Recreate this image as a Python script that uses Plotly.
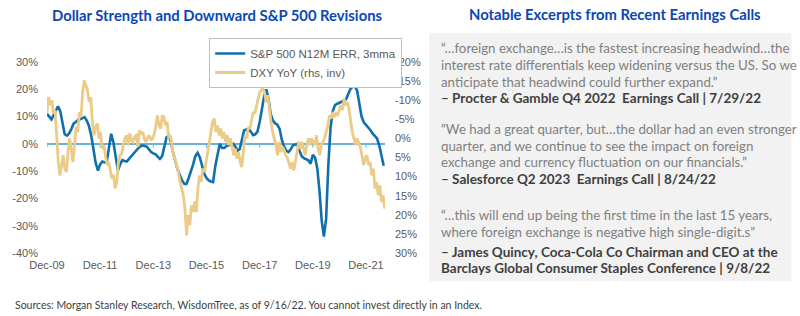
import pandas as pd
import plotly.graph_objects as go

# ---------------- DATA ----------------
# S&P 500 N12M earnings revision ratio, 3mma (%), monthly Dec-2009 .. Aug-2022
sp_start = "2009-12-01"
sp_err = [
    11, 10, 9, 10.5, 12.5, 13.8, 12, 7, 3.5, 3, 3.8, 5.5,
    7.4, 8, 8.8, 9, 9.5, 9.8, 8.5, 6.5, 3, -2, -7, -9.8,
    -7.5, -6.5, -6.8, -6.5, -2, 3.7, 0.5, -5, -9.8, -7.5, -6, -6.3,
    -6.5, -5.5, -4.5, -3.5, -2.5, -1.8, -1, -0.6, -0.8, -1, -2, -3,
    -3.5, -3.8, -4.8, -5.5, -4.5, -1, 2.4, 3, 0.6, -3.5, -7, -9.5,
    -11.5, -13.5, -14.7, -14.7, -12.5, -10.4, -7.5, -4.5, -3.3, -5, -8, -11,
    -12.5, -13.4, -13.8, -14, -8, -3.5, 0, -1.5, -1.5, -0.8, -0.6, -0.3,
    0, -1, -2.5, -2, 1, 4.9, 5.3, 5.5, 4.5, 3.2, 3.5, 4.5,
    8, 13, 17.5, 20, 16.5, 11, 8.5, 7.5, 7, 5.5, 1.5, -1,
    -2.5, -3, -2, -0.6, -0.2, 0, -2.5, -4.5, -5.2, -5.5, -6, -7.3,
    -4, -5, -9, -17, -28, -34, -27.5, -8, 6, 12, 14.2, 14.7,
    15, 15.2, 15.8, 16.3, 18, 20.1, 21, 21.1, 19.5, 15, 10, 7.9,
    7, 6.1, 5, 3.8, 2.8, 2, -0.5, -4, -8,
]

# DXY YoY (%), plotted on inverted right axis, roughly every 3 weeks Dec-2009 .. Aug-2022
dxy_start = "2009-11-30"
dxy_end = "2022-08-15"
dxy_yoy = [
    -6.5, -10.8, -8.7, -10, -6.5, -7.4, -0.8, 6.2, 9.7, 7, 4.4, 7.9, 8.8, 3.6, 0, 2.7,
    6.2, 1.8, -3, -1.7, -6.9, -5.6, -12.1, -15.2, -13.9, -12.6, -9.5, -10.8, -4.3, -0.8, -3, -3.9,
    0, -1.7, 2.7, 1.8, 4.4, 7, 6.2, 8.8, 10.5, 9.5, 13.1, 11.4, 6.2, 4.4, 4.0, 1.8,
    0, -0.8, 1.8, -1.3, 0.5, 0.9, -0.5, -0.8, 2.2, -2.1, -1.0, -1.7, 0.2, 0.9, -0.3, -0.8,
    0.5, 0, -1.0, -3, -6, -3.4, -2.6, -6, -5.6, -3.4, -4.3, 0, -0.8, 2.0, 4.4, 5.5,
    7, 9, 11.4, 13, 14.9, 18.4, 25.4, 20.1, 22.7, 17.5, 19.3, 16.6, 19.3, 13.1, 9.7, 11.4,
    7.9, 8.8, 6.2, 3.6, 0, -1.7, -4.3, -5.2, -1.7, -3.4, -0.8, -2.6, 0, -1.7, 0.9, -0.8,
    1.8, 0, 2.7, 4.4, 2.7, 5.3, 3.6, 6.2, 7.5, 3.6, -0.8, 0, -3, -2.6, -5.2, -6.9,
    -6.5, -8.7, -10.4, -12.1, -12.6, -13, -12.1, -9.5, -11.3, -6.9, -4.3, -1.7, 0, 1.8, 4.4, 0.9,
    3.6, 2.2, 3.0, 4.4, 5.0, 6.2, 7.9, 6.2, 8.4, 6.2, 3.6, 0.9, 2.7, 0.9, 2.5, 4.4,
    1.8, 0, 1.8, 0, 1.0, 1.8, -0.8, 2.7, 4.4, 1.8, 0.9, 0, -1.7, -3.4, -6, -5.2,
    -6.9, -5.6, -6.5, -6, -7.4, -8.7, -7.4, -10.4, -8.7, -9.5, -7.8, -4.3, -1.7, 0, 1.8, 0,
    0.9, 2.2, 4.4, 7, 5.3, 4.4, 7, 6.2, 9.7, 7.9, 13.1, 11.4, 14.9, 12.3, 16.6, 14.9,
    18.4,
]

series_names = ["S&P 500 N12M ERR, 3mma", "DXY YoY (rhs, inv)"]

x_tick_dates = ["2009-12-01", "2011-12-01", "2013-12-01", "2015-12-01",
                "2017-12-01", "2019-12-01", "2021-12-01"]
x_tick_labels = ["Dec-09", "Dec-11", "Dec-13", "Dec-15", "Dec-17", "Dec-19", "Dec-21"]
left_ticks = [30, 20, 10, 0, -10, -20, -30, -40]
right_ticks = [-20, -15, -10, -5, 0, 5, 10, 15, 20, 25, 30]

title_left = "Dollar Strength and Downward S&P 500 Revisions"
title_right = "Notable Excerpts from Recent Earnings Calls"

quotes = [
    (["“…foreign exchange…is the fastest increasing headwind…the",
      "interest rate differentials keep widening versus the US. So we",
      "anticipate that headwind could further expand.”"],
     ["– Procter & Gamble Q4 2022  Earnings Call | 7/29/22"]),
    (["“We had a great quarter, but…the dollar had an even stronger",
      "quarter, and we continue to see the impact on foreign",
      "exchange and currency fluctuation on our financials.”"],
     ["– Salesforce Q2 2023  Earnings Call | 8/24/22"]),
    (["“…this will end up being the first time in the last 15 years,",
      "where foreign exchange is negative high single-digit.s”"],
     ["– James Quincy, Coca-Cola Co Chairman and CEO at the",
      "Barclays Global Consumer Staples Conference | 9/8/22"]),
]
footer = "Sources: Morgan Stanley Research, WisdomTree, as of 9/16/22. You cannot invest directly in an Index."

# ---------------- LAYOUT GEOMETRY ----------------
W, H = 800, 316
PL, PR, PT, PB = 39, 385, 62, 253


def px(x):
    return (x - PL) / (PR - PL)


def py(y):
    return (PB - y) / (PB - PT)


BLUE = "#1170AA"
GOLD = "#EBCB85"
ZERO = "#6AB0DC"
AXIS_TXT = "#595959"
TITLE_BLUE = "#0A47B5"

sp_dates = pd.date_range(sp_start, periods=len(sp_err), freq="MS")
dxy_dates = pd.date_range(dxy_start, dxy_end, periods=len(dxy_yoy))

fig = go.Figure()
fig.add_trace(go.Scatter(x=dxy_dates, y=dxy_yoy, name=series_names[1], yaxis="y2",
                         mode="lines", line=dict(color=GOLD, width=2.8), legendrank=2))
fig.add_trace(go.Scatter(x=sp_dates, y=sp_err, name=series_names[0], yaxis="y",
                         mode="lines", line=dict(color=BLUE, width=2.6), legendrank=1))

tick_font = dict(family="Liberation Sans, Arial, sans-serif", size=11, color=AXIS_TXT)

fig.update_layout(
    width=W, height=H,
    margin=dict(l=PL, r=W - PR, t=PT, b=H - PB, pad=0),
    paper_bgcolor="white", plot_bgcolor="white",
    xaxis=dict(type="date", range=["2009-12-01", "2022-08-19"], tickmode="array",
               tickvals=x_tick_dates, ticktext=x_tick_labels, showgrid=False,
               showline=False, zeroline=False, ticks="", tickfont=tick_font,
               ticklabelstandoff=4),
    yaxis=dict(range=[-40, 30], tickmode="array", tickvals=left_ticks,
               ticktext=[f"{v}%" for v in left_ticks], showgrid=False, showline=False,
               zeroline=True, zerolinecolor=ZERO, zerolinewidth=1.5, ticks="",
               tickfont=tick_font, ticklabelstandoff=8),
    yaxis2=dict(range=[30, -20], overlaying="y", side="right", tickmode="array",
                tickvals=right_ticks, ticktext=[f"{v}%" for v in right_ticks],
                showgrid=False, showline=False, zeroline=False, ticks="",
                tickfont=tick_font, ticklabelstandoff=9),
    legend=dict(x=px(205), y=py(38), xanchor="left", yanchor="top",
                bgcolor="white", bordercolor="#BFBFBF", borderwidth=1,
                font=dict(family="Liberation Sans, Arial, sans-serif", size=11.5, color=AXIS_TXT),
                tracegroupgap=0, itemwidth=30),
    showlegend=True,
)

# tick marks on the zero line
for d in x_tick_dates:
    fig.add_shape(type="line", xref="x", yref="y", x0=d, x1=d, y0=0, y1=-1.4,
                  line=dict(color=ZERO, width=1), layer="below")

# grey text panel
fig.add_shape(type="rect", xref="paper", yref="paper", x0=px(430), x1=px(801),
              y0=py(281), y1=py(33), fillcolor="#F2F2F2", line=dict(width=0), layer="below")

TXT_FONT = "Lato, Noto Sans, sans-serif"
annotations = []
annotations.append(dict(text=f"<b>{title_left}</b>", x=px(213), y=py(15), xref="paper", yref="paper",
                        xanchor="center", yanchor="middle", showarrow=False,
                        font=dict(family=TXT_FONT, size=14.8, color=TITLE_BLUE)))
annotations.append(dict(text=f"<b>{title_right}</b>", x=px(620), y=py(14), xref="paper", yref="paper",
                        xanchor="center", yanchor="middle", showarrow=False,
                        font=dict(family=TXT_FONT, size=14.8, color=TITLE_BLUE)))

line_y = [[48.5, 65, 81.7, 98], [129, 145.5, 162, 179], [215, 232, 251.7, 268.3]]
for (qlines, blines), ys in zip(quotes, line_y):
    all_lines = [(t, False) for t in qlines] + [(t, True) for t in blines]
    for (t, bold), yy in zip(all_lines, ys):
        annotations.append(dict(
            text=f"<b>{t}</b>" if bold else t, x=px(440), y=py(yy), xref="paper", yref="paper",
            xanchor="left", yanchor="middle", showarrow=False,
            font=dict(family=TXT_FONT, size=13.5 if bold else 13.3,
                      color="#3F3F3F" if bold else "#808080")))

annotations.append(dict(text=footer, x=px(4), y=py(305), xref="paper", yref="paper",
                        xanchor="left", yanchor="middle", showarrow=False,
                        font=dict(family=TXT_FONT, size=10.5, color="#404040")))
fig.update_layout(annotations=annotations)

fig.write_html("out.html")
